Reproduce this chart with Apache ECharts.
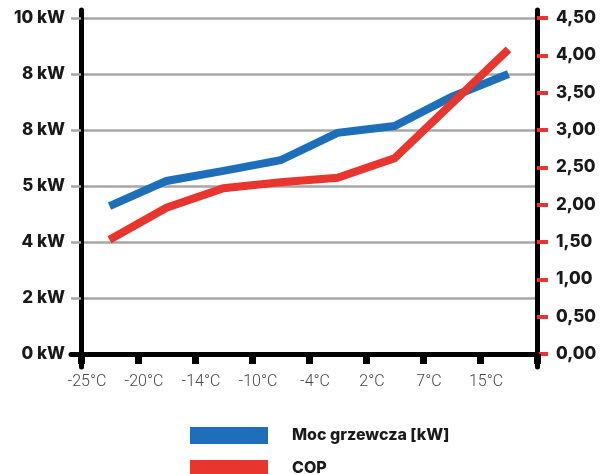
<!DOCTYPE html>
<html><head><meta charset="utf-8">
<script src="https://cdn.jsdelivr.net/npm/echarts@6/dist/echarts.min.js"></script>
<style>html,body{margin:0;padding:0;background:#fff}#c{width:603px;height:474px}</style>
</head><body><div id="c"></div>
<script>
var categories = ['-25°C','-20°C','-14°C','-10°C','-4°C','2°C','7°C','15°C'];
var leftLabels = ['0 kW','2 kW','4 kW','5 kW','8 kW','8 kW','10 kW'];
var rightLabels = ['0,00','0,50','1,00','1,50','2,00','2,50','3,00','3,50','4,00','4,50'];
// heating power, in steps of the left axis (one step per gridline)
var heating = [2.64, 3.09, 3.27, 3.46, 3.95, 4.07, 4.59, 5.0];
// COP, right axis
var cop = [1.53, 1.96, 2.22, 2.30, 2.36, 2.62, 3.35, 4.08];

var BLUE = '#1e6fb9', RED = '#e8352d', GRID = '#a6a6a6';
var boldFont = {fontFamily:'Inter', fontWeight:800, fontSize:17, color:'#1a1a1a'};
var legendText = {fontFamily:'Inter', fontWeight:800, fontSize:16, color:'#1a1a1a', padding:[0,0,0,19]};
var chart = echarts.init(document.getElementById('c'), null, {renderer:'canvas'});
chart.setOption({
  animation:false,
  backgroundColor:'#fff',
  grid:[
    {left:81, right:66, top:18, bottom:120, outerBoundsMode:'none', containLabel:false},
    {left:71, right:66, top:18, bottom:120, outerBoundsMode:'none', containLabel:false},
    {left:81, right:66, top:10, bottom:107, outerBoundsMode:'none', containLabel:false}
  ],
  legend:[
    {left:190, top:427, padding:0, itemWidth:78, itemHeight:17, icon:'rect', textStyle:legendText, data:['Moc grzewcza [kW]']},
    {left:190, top:460, padding:0, itemWidth:78, itemHeight:17, icon:'rect', textStyle:legendText, data:['COP']}
  ],
  xAxis:[
    {gridIndex:0, type:'category', data:categories, boundaryGap:true, show:false, position:'bottom'},
    {gridIndex:0, type:'category', data:categories.concat(['']), boundaryGap:false, position:'bottom',
     axisLine:{show:true, lineStyle:{color:'#000', width:5}},
     axisTick:{show:true, length:10, lineStyle:{color:'#000', width:7}},
     axisLabel:{margin:20, fontFamily:'Roboto', fontWeight:300, fontSize:16, color:'#444', interval:0, padding:[0,0,0,12]},
     splitLine:{show:false}},
    {gridIndex:1, type:'value', min:0, max:1, position:'bottom', z:20, axisLine:{show:true, lineStyle:{color:'#000', width:5}},
     axisTick:{show:false}, axisLabel:{show:false}, splitLine:{show:false}},
    {gridIndex:2, type:'value', min:0, max:1, show:false}
  ],
  yAxis:[
    {gridIndex:0, type:'value', min:0, max:6, interval:1, position:'left',
     axisLine:{show:false},
     axisTick:{show:true, length:10, lineStyle:{color:GRID, width:2.5}},
     axisLabel:{margin:16, formatter:function(v){return leftLabels[Math.round(v)];}, fontFamily:boldFont.fontFamily, fontWeight:boldFont.fontWeight, fontSize:boldFont.fontSize, color:boldFont.color},
     splitLine:{show:true, lineStyle:{color:GRID, width:2.5}}},
    {gridIndex:0, type:'value', min:0, max:4.5, interval:0.5, position:'right',
     axisLine:{show:false},
     axisTick:{show:true, length:11, lineStyle:{color:RED, width:4}},
     axisLabel:{margin:19, formatter:function(v){return rightLabels[Math.round(v*2)];}, fontFamily:boldFont.fontFamily, fontWeight:boldFont.fontWeight, fontSize:boldFont.fontSize, color:boldFont.color},
     splitLine:{show:false}},
    {gridIndex:1, type:'value', min:0, max:1, show:false},
    {gridIndex:2, type:'value', min:0, max:1, position:'left',
     axisLine:{show:true, lineStyle:{color:'#000', width:5}}, axisTick:{show:false}, axisLabel:{show:false}, splitLine:{show:false}},
    {gridIndex:2, type:'value', min:0, max:1, position:'right',
     axisLine:{show:true, lineStyle:{color:'#000', width:5}}, axisTick:{show:false}, axisLabel:{show:false}, splitLine:{show:false}}
  ],
  series:[
    {name:'Moc grzewcza [kW]', type:'line', xAxisIndex:0, yAxisIndex:0, data:heating,
     showSymbol:false, lineStyle:{color:BLUE, width:8, cap:'butt', join:'miter'}, itemStyle:{color:BLUE}, z:5},
    {name:'COP', type:'line', xAxisIndex:0, yAxisIndex:1, data:cop,
     showSymbol:false, lineStyle:{color:RED, width:8, cap:'butt', join:'miter'}, itemStyle:{color:RED}, z:6}
  ]
});
</script></body></html>
